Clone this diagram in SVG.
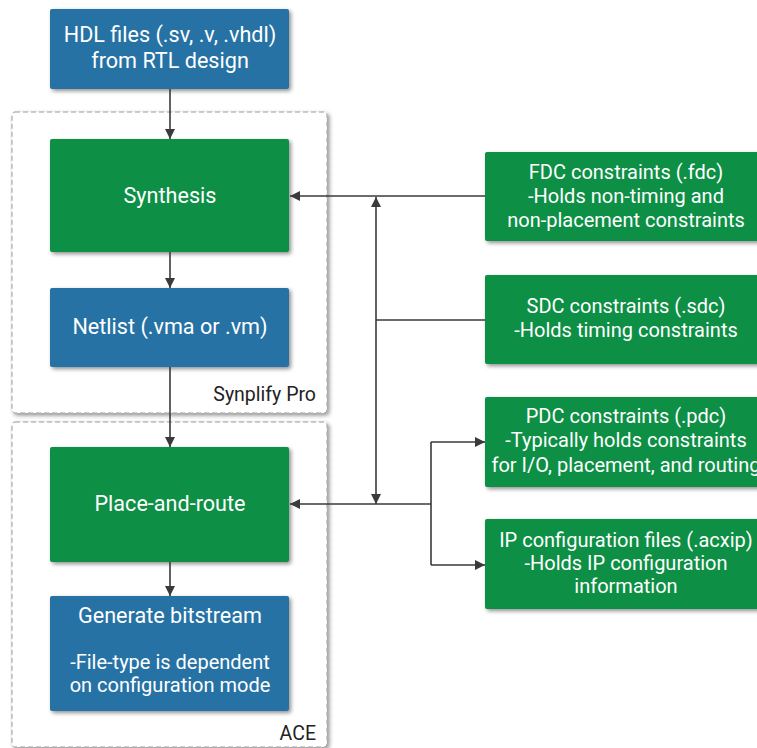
<svg xmlns="http://www.w3.org/2000/svg" width="757" height="748" viewBox="0 0 757 748">
<defs>
<filter id="sh" x="-10%" y="-10%" width="125%" height="130%">
<feGaussianBlur in="SourceAlpha" stdDeviation="2"/>
<feOffset dx="2" dy="2" result="b"/>
<feComponentTransfer><feFuncA type="linear" slope="0.45"/></feComponentTransfer>
<feMerge><feMergeNode/><feMergeNode in="SourceGraphic"/></feMerge>
</filter>
<marker id="ah" viewBox="0 0 10 10" refX="10" refY="5" markerWidth="10" markerHeight="10" markerUnits="userSpaceOnUse" orient="auto-start-reverse">
<path d="M0,0 L10,5 L0,10 Z" fill="#3a3a3a"/>
</marker>
<style>
.blue{fill:#2872a5;filter:url(#sh)}
.green{fill:#078f45;filter:url(#sh)}
.box{fill:#ffffff;stroke:#9a9a9a;stroke-width:1;stroke-dasharray:5,3;filter:url(#sh)}
text{font-family:Roboto,"Liberation Sans",sans-serif;font-size:20px;text-anchor:middle;fill:#ffffff}
.t{font-size:21.6px}
.lbl{fill:#222222;text-anchor:end;font-size:19.5px}
.c{fill:none;stroke:#3a3a3a;stroke-width:1.6}
</style>
</defs>
<g id="synplify">
<rect class="box" x="12" y="112" width="315" height="301" rx="3"/>
<text class="lbl" x="316" y="401">Synplify Pro</text>
</g>
<g id="ace">
<rect class="box" x="12" y="422" width="315" height="325" rx="3"/>
<text class="lbl" x="316" y="740">ACE</text>
</g>
<g id="hdl">
<rect class="blue" x="50" y="9" width="239" height="80" rx="2"/>
<text class="t" x="170" y="42">HDL files (.sv, .v, .vhdl)</text>
<text class="t" x="170" y="68">from RTL design</text>
</g>
<g id="synthesis">
<rect class="green" x="50" y="139" width="239" height="113" rx="2"/>
<text class="t" x="170" y="203">Synthesis</text>
</g>
<g id="netlist">
<rect class="blue" x="50" y="288" width="239" height="79" rx="2"/>
<text class="t" x="170" y="334">Netlist (.vma or .vm)</text>
</g>
<g id="par">
<rect class="green" x="50" y="447" width="239" height="115" rx="2"/>
<text class="t" x="170" y="511">Place-and-route</text>
</g>
<g id="bitstream">
<rect class="blue" x="50" y="596" width="239" height="115" rx="2"/>
<text class="t" x="170" y="623">Generate bitstream</text>
<text x="170" y="669">-File-type is dependent</text>
<text x="170" y="692">on configuration mode</text>
</g>
<g id="fdc">
<rect class="green" x="485" y="152" width="282" height="89" rx="2"/>
<text x="626" y="179">FDC constraints (.fdc)</text>
<text x="626" y="203">-Holds non-timing and</text>
<text x="626" y="227">non-placement constraints</text>
</g>
<g id="sdc">
<rect class="green" x="485" y="275" width="282" height="89" rx="2"/>
<text x="626" y="313">SDC constraints (.sdc)</text>
<text x="626" y="337">-Holds timing constraints</text>
</g>
<g id="pdc">
<rect class="green" x="485" y="397" width="282" height="90" rx="2"/>
<text x="626" y="423">PDC constraints (.pdc)</text>
<text x="626" y="447">-Typically holds constraints</text>
<text x="626" y="472">for I/O, placement, and routing</text>
</g>
<g id="ip">
<rect class="green" x="485" y="519" width="282" height="90" rx="2"/>
<text x="626" y="547">IP configuration files (.acxip)</text>
<text x="626" y="570">-Holds IP configuration</text>
<text x="626" y="593">information</text>
</g>
<g id="connectors">
<path class="c" d="M170,89 V139" marker-end="url(#ah)"/>
<path class="c" d="M170,252 V288" marker-end="url(#ah)"/>
<path class="c" d="M170,367 V447" marker-end="url(#ah)"/>
<path class="c" d="M170,562 V596" marker-end="url(#ah)"/>
<path class="c" d="M485,196 H290" marker-end="url(#ah)"/>
<path class="c" d="M376,197 V504" marker-start="url(#ah)" marker-end="url(#ah)"/>
<path class="c" d="M376,320 H485"/>
<path class="c" d="M431,504 H290" marker-end="url(#ah)"/>
<path class="c" d="M431,442 V565"/>
<path class="c" d="M431,442 H485" marker-end="url(#ah)"/>
<path class="c" d="M431,565 H485" marker-end="url(#ah)"/>
</g>
</svg>
